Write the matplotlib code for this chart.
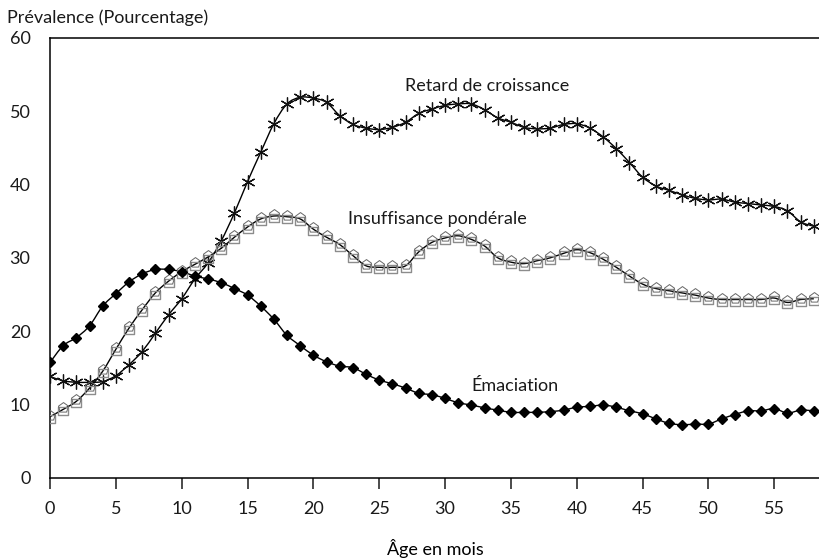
import numpy as np
import matplotlib.pyplot as plt
from matplotlib.path import Path
from matplotlib.patches import PathPatch
from matplotlib.markers import MarkerStyle

plt.rcParams['font.family'] = ['Lato', 'DejaVu Sans']
plt.rcParams['text.color'] = '#1a1a1a'
plt.rcParams['xtick.color'] = '#1a1a1a'
plt.rcParams['ytick.color'] = '#1a1a1a'

"""Prevalence by age in months, 0 to 58."""
age = np.arange(0, 59)

retard = [13.8, 13.2, 13.0, 13.0, 13.1, 13.9, 15.4, 17.2, 19.7, 22.2,
          24.4, 27.1, 29.3, 32.3, 36.1, 40.4, 44.4, 48.3, 51.0, 51.9,
          51.8, 51.2, 49.4, 48.2, 47.7, 47.5, 47.8, 48.5, 49.7, 50.3,
          50.8, 51.0, 51.0, 50.2, 49.1, 48.5, 47.8, 47.6, 47.7, 48.2,
          48.3, 47.7, 46.5, 44.9, 43.0, 41.0, 39.8, 39.2, 38.6, 38.1,
          37.9, 38.0, 37.6, 37.4, 37.2, 37.0, 36.4, 34.9, 34.3]

insuffisance = [8.3, 9.3, 10.4, 12.2, 14.5, 17.5, 20.4, 22.9, 25.2, 26.8,
                28.1, 29.1, 30.1, 31.3, 32.8, 34.2, 35.3, 35.7, 35.6, 35.3,
                33.9, 32.8, 31.8, 30.3, 28.9, 28.7, 28.7, 28.9, 30.8, 32.1,
                32.7, 33.0, 32.5, 31.6, 30.0, 29.4, 29.2, 29.6, 30.0, 30.6,
                31.1, 30.7, 29.8, 28.7, 27.5, 26.4, 25.8, 25.5, 25.2, 24.9,
                24.5, 24.3, 24.3, 24.3, 24.3, 24.5, 23.9, 24.3, 24.4]

emaciation = [15.7, 18.0, 19.1, 20.7, 23.4, 25.1, 26.7, 27.8, 28.4, 28.4,
              28.1, 27.5, 27.1, 26.6, 25.8, 24.9, 23.4, 21.6, 19.4, 18.0,
              16.7, 15.8, 15.2, 15.0, 14.1, 13.3, 12.8, 12.2, 11.5, 11.3,
              10.8, 10.2, 9.9, 9.5, 9.2, 8.9, 8.9, 8.9, 9.0, 9.2,
              9.6, 9.7, 9.9, 9.6, 9.1, 8.7, 8.0, 7.4, 7.2, 7.3,
              7.3, 8.0, 8.6, 9.1, 9.1, 9.4, 8.8, 9.2, 9.1]

xticks = list(range(0, 60, 5))
yticks = list(range(0, 70, 10))


def smooth_path(x, y):
    """Catmull-Rom style cubic Bezier path through the points."""
    x = np.asarray(x, float)
    y = np.asarray(y, float)
    p = np.column_stack([x, y])
    n = len(p)
    verts = [p[0]]
    codes = [Path.MOVETO]
    for i in range(n - 1):
        p0 = p[i - 1] if i > 0 else p[i]
        p3 = p[i + 2] if i + 2 < n else p[i + 1]
        c1 = p[i] + (p[i + 1] - p0) / 6.0
        c2 = p[i + 1] - (p3 - p[i]) / 6.0
        verts += [c1, c2, p[i + 1]]
        codes += [Path.CURVE4] * 3
    return Path(verts, codes)


# square sitting under a pentagon roof
sq = Path([(-1.0, -1.25), (1.0, -1.25), (1.0, 0.35), (-1.0, 0.35), (-1.0, -1.25)],
          [Path.MOVETO, Path.LINETO, Path.LINETO, Path.LINETO, Path.CLOSEPOLY])
ang = np.deg2rad(90 + 72 * np.arange(5))
pent_v = np.column_stack([1.1 * np.cos(ang), 1.1 * np.sin(ang) + 0.35])
pent_v = np.vstack([pent_v, pent_v[:1]])
pent = Path(pent_v, [Path.MOVETO] + [Path.LINETO] * 4 + [Path.CLOSEPOLY])
# pad both paths to the same extent so they scale alike
sq_m = MarkerStyle(Path(np.vstack([sq.vertices, [[0, 1.45], [0, -1.25]]]),
                        list(sq.codes) + [Path.MOVETO, Path.MOVETO]))
pent_m = MarkerStyle(Path(np.vstack([pent_v, [[0, 1.45], [0, -1.25]]]),
                          list(pent.codes) + [Path.MOVETO, Path.MOVETO]))

fig = plt.figure(figsize=(8.2, 5.59), dpi=100)
ax = fig.add_axes([50 / 820, (559 - 477.5) / 559, 770 / 820, 439.5 / 559])

for series in (retard, insuffisance, emaciation):
    ax.add_patch(PathPatch(smooth_path(age, series), fc='none', ec='black',
                           lw=1.0, zorder=2))

ax.plot(age, retard, ls='none', marker=(6, 2, 0), ms=10, mec='#111111',
        mew=0.9, zorder=3)
ax.plot(age, insuffisance, ls='none', marker=sq_m, ms=10, mfc='none',
        mec='#8c8c8c', mew=1.0, zorder=3)
ax.plot(age, insuffisance, ls='none', marker=pent_m, ms=10, mfc='none',
        mec='#666666', mew=0.7, zorder=3)
ax.plot(age, emaciation, ls='none', marker='D', ms=5.5, mfc='black',
        mec='black', zorder=3)

ax.set_xlim(0, 58.47)
ax.set_ylim(0, 60)
ax.set_xticks(xticks)
ax.set_yticks(yticks)
ax.spines['right'].set_visible(False)
for s in ('left', 'top', 'bottom'):
    ax.spines[s].set_linewidth(1.1)
ax.tick_params(axis='x', direction='out', length=8, width=1.1, pad=9,
               labelsize=13)
ax.tick_params(axis='y', length=0, pad=14, labelsize=13)

ax.text(-43 / 770, 1 + 20 / 439.5, 'Prévalence (Pourcentage)',
        transform=ax.transAxes, ha='left', va='center', fontsize=13)
ax.set_xlabel('Âge en mois', fontsize=13, labelpad=16)

ax.text(33.2, 53.4, 'Retard de croissance', ha='center', va='center',
        fontsize=13)
ax.text(29.4, 35.3, 'Insuffisance pondérale', ha='center', va='center',
        fontsize=13)
ax.text(35.3, 12.5, 'Émaciation', ha='center', va='center', fontsize=13)

fig.savefig('out.png', dpi=100)
